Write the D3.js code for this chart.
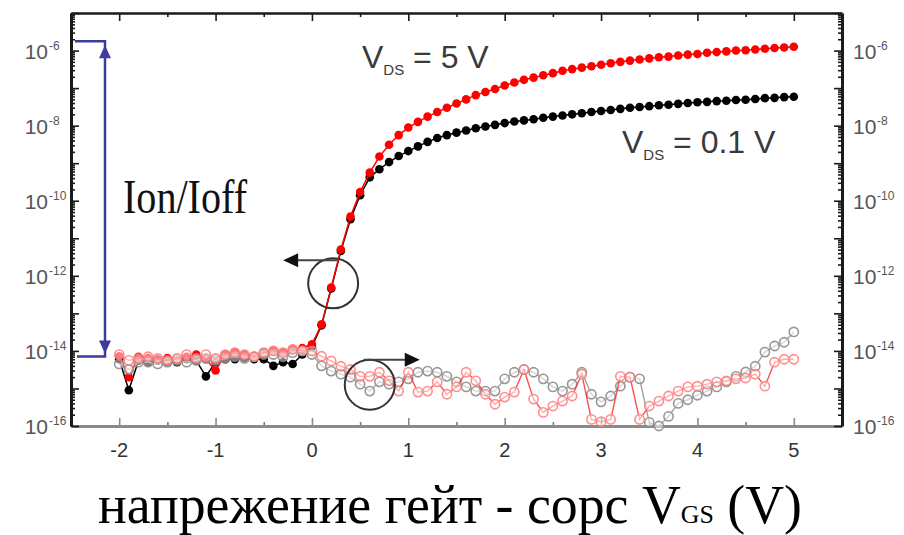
<!DOCTYPE html>
<html>
<head>
<meta charset="utf-8">
<script src="https://cdn.jsdelivr.net/npm/d3@7"></script>
<style>
  body { margin: 0; background: #fff; }
  svg { display: block; }
</style>
</head>
<body>
<svg id="chart" width="904" height="535"></svg>
<script>
// gate-source voltage, V
const vgs = [-2.0,-1.9,-1.8,-1.7,-1.6,-1.5,-1.4,-1.3,-1.2,-1.1,-1.0,-0.9,-0.8,-0.7,-0.6,-0.5,-0.4,-0.3,-0.2,-0.1,
  0.0,0.1,0.2,0.3,0.4,0.5,0.6,0.7,0.8,0.9,1.0,1.1,1.2,1.3,1.4,1.5,1.6,1.7,1.8,1.9,
  2.0,2.1,2.2,2.3,2.4,2.5,2.6,2.7,2.8,2.9,3.0,3.1,3.2,3.3,3.4,3.5,3.6,3.7,3.8,3.9,
  4.0,4.1,4.2,4.3,4.4,4.5,4.6,4.7,4.8,4.9,5.0];

// drain current, VDS = 5 V (filled red, left axis)
const idVds5 = [7.2e-15,2.0e-15,7.0e-15,6.5e-15,6.0e-15,6.5e-15,5.5e-15,7.0e-15,8.0e-15,6.0e-15,
  3.0e-15,8.0e-15,9.0e-15,8.0e-15,7.0e-15,9.0e-15,1.0e-14,9.0e-15,1.1e-14,1.2e-14,
  1.5e-14,5.1e-14,4.9e-13,5.0e-12,3.8e-11,1.7e-10,5.6e-10,1.5e-9,3.1e-9,5.6e-9,
  8.9e-9,1.26e-8,1.74e-8,2.3e-8,3.0e-8,3.9e-8,5.0e-8,6.5e-8,7.9e-8,9.5e-8,
  1.17e-7,1.41e-7,1.66e-7,1.9e-7,2.2e-7,2.5e-7,2.9e-7,3.2e-7,3.5e-7,3.8e-7,
  4.2e-7,4.6e-7,5.0e-7,5.4e-7,5.8e-7,6.2e-7,6.6e-7,6.9e-7,7.4e-7,7.8e-7,
  8.1e-7,8.7e-7,9.1e-7,9.5e-7,1.0e-6,1.02e-6,1.07e-6,1.12e-6,1.17e-6,1.2e-6,1.26e-6];

// drain current, VDS = 0.1 V (filled black, left axis)
const idVds01 = [6.0e-15,9.0e-16,5.5e-15,5.0e-15,5.5e-15,5.0e-15,5.0e-15,6.0e-15,5.5e-15,2.1e-15,
  5.0e-15,6.0e-15,6.0e-15,6.5e-15,6.0e-15,6.0e-15,4.0e-15,5.0e-15,4.5e-15,8.0e-15,
  1.3e-14,4.8e-14,4.6e-13,4.6e-12,3.2e-11,1.4e-10,4.2e-10,6.9e-10,1.07e-9,1.55e-9,
  2.1e-9,2.8e-9,3.7e-9,4.7e-9,5.6e-9,6.5e-9,7.4e-9,8.5e-9,9.5e-9,1.05e-8,
  1.17e-8,1.29e-8,1.38e-8,1.48e-8,1.62e-8,1.74e-8,1.86e-8,2.0e-8,2.14e-8,2.3e-8,
  2.45e-8,2.6e-8,2.8e-8,3.0e-8,3.15e-8,3.3e-8,3.5e-8,3.6e-8,3.8e-8,4.0e-8,
  4.2e-8,4.3e-8,4.5e-8,4.6e-8,4.8e-8,4.9e-8,5.1e-8,5.4e-8,5.5e-8,5.75e-8,5.9e-8];

// gate current, VDS = 0.1 V (open grey, right axis)
const igVds01 = [4.5e-15,3.2e-15,5.0e-15,5.0e-15,4.5e-15,5.0e-15,5.6e-15,5.0e-15,5.6e-15,6.3e-15,
  5.6e-15,6.3e-15,7.0e-15,6.3e-15,7.0e-15,8.0e-15,8.0e-15,7.0e-15,9.0e-15,1.0e-14,
  8.0e-15,4.0e-15,2.9e-15,2.4e-15,2.0e-15,1.3e-15,8.5e-16,1.5e-15,1.3e-15,1.5e-15,
  1.8e-15,2.7e-15,2.9e-15,2.7e-15,2.1e-15,1.5e-15,1.1e-15,8.5e-16,8.5e-16,8.5e-16,
  1.8e-15,2.7e-15,3.2e-15,2.7e-15,1.8e-15,1.1e-15,8.5e-16,1.3e-15,2.7e-15,7.0e-16,
  4.4e-16,6.3e-16,1.15e-15,2.0e-15,1.8e-15,1.25e-16,1.0e-16,1.8e-16,4.0e-16,5.0e-16,
  6.6e-16,8.5e-16,1.1e-15,1.5e-15,2.1e-15,2.75e-15,3.9e-15,9.3e-15,1.35e-14,1.7e-14,3.2e-14];

// gate current, VDS = 5 V (open red, right axis)
const igVds5 = [8.0e-15,5.6e-15,6.3e-15,7.0e-15,6.3e-15,5.6e-15,6.3e-15,8.0e-15,6.3e-15,8.0e-15,
  6.3e-15,8.0e-15,9.0e-15,8.0e-15,7.0e-15,9.0e-15,1.0e-14,9.0e-15,1.1e-14,1.0e-14,
  1.0e-14,7.2e-15,5.4e-15,3.9e-15,3.2e-15,2.1e-15,2.1e-15,2.7e-15,1.6e-15,8.5e-16,
  2.7e-15,8.0e-16,8.5e-16,1.5e-15,7.0e-16,1.1e-15,2.7e-15,1.6e-15,7.0e-16,3.8e-16,
  5.9e-16,8.0e-16,3.2e-15,5.2e-16,2.3e-16,3.4e-16,4.6e-16,6.3e-16,2.4e-15,1.5e-16,
  1.3e-16,1.5e-16,2.1e-15,2.0e-15,1.5e-16,3.4e-16,4.6e-16,6.3e-16,8.5e-16,1.1e-15,
  1.15e-15,1.3e-15,1.5e-15,1.6e-15,1.8e-15,1.9e-15,2.4e-15,1.15e-15,5.0e-15,6.0e-15,6.0e-15];

// axis ticks
const xTicks = [-2, -1, 0, 1, 2, 3, 4, 5];
const xMinorTicks = [-2.5, -1.5, -0.5, 0.5, 1.5, 2.5, 3.5, 4.5];
const yLabelExp = [-6, -8, -10, -12, -14, -16];
const yDecades = [-16, -15, -14, -13, -12, -11, -10, -9, -8, -7, -6, -5];

// annotations in data units [V, log10(A)]
const circleLeft = [0.22, -12.2];
const circleRight = [0.6, -14.9];
const onOffTop = -5.75;
const onOffBottom = -14.15;

const svg = d3.select("#chart");
const margin = {left: 71, right: 62, top: 13, bottom: 109};
const width = 904, height = 535;

const x = d3.scaleLinear().domain([-2.5, 5.5]).range([margin.left, width - margin.right]);
const y = d3.scaleLog().domain([1e-16, 1e-5]).range([height - margin.bottom, margin.top]);
const yExp = v => y(Math.pow(10, v));

// minor log ticks
const yMinor = [];
yDecades.slice(0, -1).forEach(e => {
    for (let k = 2; k <= 9; k++) yMinor.push(k * Math.pow(10, e));
});

// ---- frame and ticks
const axisColor = "#1a1a1a";
function styleAxis(g, color, w) {
    g.select(".domain").attr("stroke", color).attr("stroke-width", w);
    g.selectAll(".tick line").attr("stroke", color).attr("stroke-width", 1.6);
    g.selectAll("text").remove();
}

const plotBottom = height - margin.bottom;
const plotRight = width - margin.right;

svg.append("g").attr("transform", `translate(0,${plotBottom})`)
    .call(d3.axisBottom(x).tickValues(xMinorTicks).tickSizeInner(-4).tickSizeOuter(0))
    .call(g => styleAxis(g, "#7a7a7a", 0));
svg.append("g").attr("transform", `translate(0,${plotBottom})`)
    .call(d3.axisBottom(x).tickValues(xTicks).tickSizeInner(-8).tickSizeOuter(0))
    .call(g => styleAxis(g, "#8a8a8a", 3));
svg.append("g").attr("transform", `translate(0,${margin.top})`)
    .call(d3.axisTop(x).tickValues(xMinorTicks).tickSizeInner(-4).tickSizeOuter(0))
    .call(g => styleAxis(g, axisColor, 0));
svg.append("g").attr("transform", `translate(0,${margin.top})`)
    .call(d3.axisTop(x).tickValues(xTicks).tickSizeInner(-8).tickSizeOuter(0))
    .call(g => styleAxis(g, axisColor, 2.5));

[[margin.left, d3.axisLeft], [plotRight, d3.axisRight]].forEach(([px, ax]) => {
    svg.append("g").attr("transform", `translate(${px},0)`)
        .call(ax(y).tickValues(yMinor).tickSizeInner(-4).tickSizeOuter(0))
        .call(g => styleAxis(g, axisColor, 0));
    svg.append("g").attr("transform", `translate(${px},0)`)
        .call(ax(y).tickValues(yDecades.map(e => Math.pow(10, e))).tickSizeInner(-8).tickSizeOuter(0))
        .call(g => styleAxis(g, axisColor, 3));
});

// tick labels
const tickFont = "Liberation Sans, Arial, sans-serif";
svg.append("g").selectAll("text").data(xTicks).join("text")
    .attr("x", d => x(d)).attr("y", plotBottom + 31)
    .attr("text-anchor", "middle")
    .attr("font-family", tickFont).attr("font-size", 20).attr("fill", "#333")
    .text(d => d);

function yLabel(g, anchorX, side) {
    const lab = g.selectAll("g").data(yLabelExp).join("g")
        .attr("transform", d => `translate(${anchorX},${yExp(d) + 8})`);
    lab.append("text")
        .attr("x", side === "left" ? -14 : 0)
        .attr("text-anchor", side === "left" ? "end" : "start")
        .attr("font-family", tickFont).attr("font-size", 21).attr("fill", "#555")
        .text("10");
    lab.append("text")
        .attr("x", side === "left" ? -13 : 24)
        .attr("y", -9)
        .attr("text-anchor", "start")
        .attr("font-family", tickFont).attr("font-size", 12).attr("fill", "#555")
        .text(d => `-${-d}`);
}
svg.append("g").call(g => yLabel(g, 62, "left"));
svg.append("g").call(g => yLabel(g, 853, "right"));

// ---- data series
const lineGen = d3.line().x(d => x(d[0])).y(d => y(d[1]));

function drawSeries(values, color, fill, r, lineColor, lineWidth, opacity) {
    const pts = vgs.map((v, i) => [v, values[i]]);
    const g = svg.append("g").attr("opacity", opacity);
    g.append("path").datum(pts)
        .attr("d", lineGen).attr("fill", "none")
        .attr("stroke", lineColor).attr("stroke-width", lineWidth);
    g.selectAll("circle").data(pts).join("circle")
        .attr("cx", d => x(d[0])).attr("cy", d => y(d[1])).attr("r", r)
        .attr("fill", fill ? color : "#fff")
        .attr("fill-opacity", fill ? 1 : 0.55)
        .attr("stroke", color).attr("stroke-width", fill ? 0 : 1.6);
}

drawSeries(idVds01, "#000", true, 4.3, "#000", 1.5, 1);
drawSeries(idVds5, "#ff0000", true, 4.3, "#ff0000", 1.5, 1);
drawSeries(igVds01, "#8c8c8c", false, 4.6, "#9a9a9a", 1.4, 0.9);
drawSeries(igVds5, "#ff7b7b", false, 4.6, "#ff3030", 1.4, 0.85);

// ---- annotations
const ann = svg.append("g");
// circle + arrow pointing to left axis
const c1 = [x(circleLeft[0]), yExp(circleLeft[1])];
ann.append("circle").attr("cx", c1[0]).attr("cy", c1[1]).attr("r", 25)
    .attr("fill", "none").attr("stroke", "#333").attr("stroke-width", 2);
ann.append("line")
    .attr("x1", c1[0] + 4).attr("y1", c1[1] - 23)
    .attr("x2", c1[0] - 40).attr("y2", c1[1] - 23)
    .attr("stroke", "#444").attr("stroke-width", 2);
ann.append("path")
    .attr("d", `M${c1[0] - 50},${c1[1] - 23}l15,-7l0,14Z`).attr("fill", "#111");

// circle + arrow pointing to right axis
const c2 = [x(circleRight[0]), yExp(circleRight[1])];
ann.append("circle").attr("cx", c2[0]).attr("cy", c2[1]).attr("r", 25)
    .attr("fill", "none").attr("stroke", "#333").attr("stroke-width", 2);
ann.append("line")
    .attr("x1", c2[0] - 6).attr("y1", c2[1] - 25)
    .attr("x2", c2[0] + 40).attr("y2", c2[1] - 25)
    .attr("stroke", "#444").attr("stroke-width", 2);
ann.append("path")
    .attr("d", `M${c2[0] + 50},${c2[1] - 25}l-15,-7l0,14Z`).attr("fill", "#111");

// Ion/Ioff bracket
const blue = "#3c3c9c";
const bx = 105;
const yTop = yExp(onOffTop), yBot = yExp(onOffBottom);
ann.append("path")
    .attr("d", `M75,${yTop}H${bx}V${yBot}H77`)
    .attr("fill", "none").attr("stroke", blue).attr("stroke-width", 2.5);
ann.append("path").attr("d", `M${bx},${yTop + 4}l-6,13l12,0Z`).attr("fill", blue);
ann.append("path").attr("d", `M${bx},${yBot - 3}l-6,-13l12,0Z`).attr("fill", blue);

const serif = "Liberation Serif, Times New Roman, serif";
ann.append("text").attr("x", 123).attr("y", 213)
    .attr("font-family", serif).attr("font-size", 48).attr("fill", "#111")
    .attr("textLength", 124).attr("lengthAdjust", "spacingAndGlyphs")
    .text("Ion/Ioff");

// VDS labels
function vdsLabel(px, py, value) {
    const t = ann.append("text").attr("x", px).attr("y", py)
        .attr("font-family", tickFont).attr("font-size", 32).attr("fill", "#3a3a3a");
    t.append("tspan").text("V");
    t.append("tspan").attr("font-size", 15).attr("dy", 7).text("DS");
    t.append("tspan").attr("dy", -7).text(` = ${value} V`);
}
vdsLabel(362, 68, "5");
vdsLabel(622, 153, "0.1");

// x-axis title
const title = svg.append("text").attr("x", 98).attr("y", 523)
    .attr("font-family", serif).attr("font-size", 54).attr("fill", "#000")
    .attr("textLength", 704).attr("lengthAdjust", "spacingAndGlyphs");
title.append("tspan").text("напрежение гейт - сорс V");
title.append("tspan").attr("font-size", 26).text("GS");
title.append("tspan").text(" (V)");
</script>
</body>
</html>
